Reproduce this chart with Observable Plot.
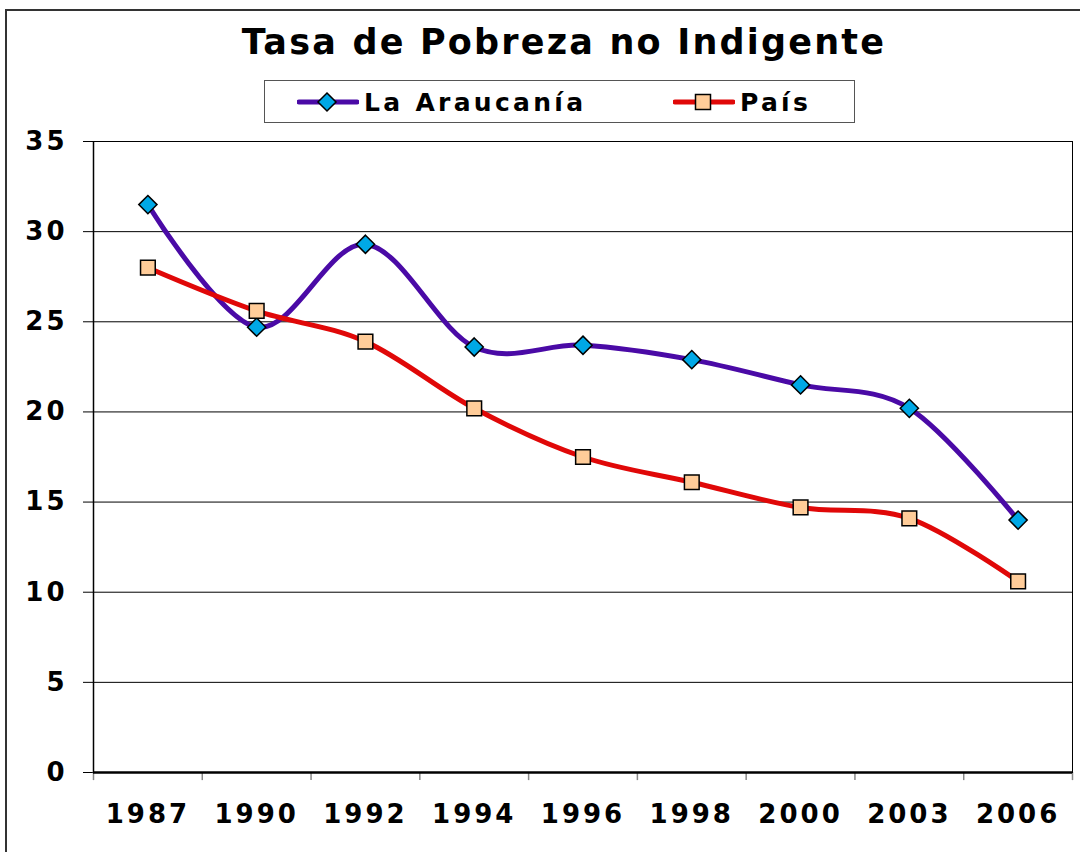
<!DOCTYPE html>
<html>
<head>
<meta charset="utf-8">
<script src="https://cdn.jsdelivr.net/npm/d3@7"></script>
<script src="https://cdn.jsdelivr.net/npm/@observablehq/plot@0.6"></script>
<style>
  html, body { margin: 0; padding: 0; background: #fff; overflow: hidden; }
  body { width: 1080px; height: 852px; position: relative; font-family: "DejaVu Sans", Verdana, sans-serif; }
  #frame { position: absolute; left: 5px; top: 9px; width: 1200px; height: 1000px; border-left: 2px solid #333; border-top: 2px solid #333; }
  #title { position: absolute; left: 0; width: 1128px; top: 22px; text-align: center; font-weight: bold; font-size: 35px; letter-spacing: 2.2px; color: #000; }
  #legend { position: absolute; left: 264px; top: 80px; width: 591px; height: 43px; border: 1px solid #555; box-sizing: border-box; z-index: 2; }
  .item { position: absolute; top: 0; height: 43px; display: flex; align-items: center; font-weight: bold; font-size: 25px; letter-spacing: 3.3px; }
  .item svg { display: block; margin-right: 5px; }
  #chart { position: absolute; left: 0; top: 110px; z-index: 1; }
</style>
</head>
<body>
<div id="frame"></div>
<div id="title">Tasa de Pobreza no Indigente</div>
<div id="chart"></div>
<div id="legend"></div>
<script>
const years = ["1987", "1990", "1992", "1994", "1996", "1998", "2000", "2003", "2006"];
const araucania = [31.5, 24.7, 29.3, 23.6, 23.7, 22.9, 21.5, 20.2, 14.0];
const pais = [28.0, 25.6, 23.9, 20.2, 17.5, 16.1, 14.7, 14.1, 10.6];
const seriesNames = ["La Araucanía", "País"];
const yTicks = [0, 5, 10, 15, 20, 25, 30, 35];

const lineColors = {"La Araucanía": "#4A0AA6", "País": "#E00808"};
const markerFill = {"La Araucanía": "#00A8E6", "País": "#FFCC99"};
const markerSymbol = {"La Araucanía": "diamond2", "País": "square"};

const rows = [];
years.forEach((yr, i) => {
  rows.push({year: yr, value: araucania[i], series: seriesNames[0]});
  rows.push({year: yr, value: pais[i], series: seriesNames[1]});
});

const width = 1080, height = 742;
const mL = 93, mR = 8;
const bw = (width - mL - mR) / years.length;

const marks = [
  Plot.gridY(yTicks, {stroke: "#000", strokeOpacity: 1, strokeWidth: 1}),
  Plot.axisY({ticks: yTicks, tickSize: 10, tickPadding: 16, stroke: "#000"}),
  Plot.axisX({tickSize: 0, tickPadding: 32}),
  Plot.ruleX(years, {x: d => d, y1: 0, y2: -0.45, dx: -bw / 2, stroke: "#888", strokeWidth: 1.5}),
  Plot.ruleX([years[years.length - 1]], {x: d => d, y1: 0, y2: -0.45, dx: bw / 2, stroke: "#888", strokeWidth: 1.5}),
  Plot.frame({stroke: "#000", strokeWidth: 1}),
  Plot.ruleY([0], {stroke: "#000", strokeWidth: 2.5}),
  Plot.ruleX([years[0]], {x: d => d, dx: -bw / 2, y1: 0, y2: 35, stroke: "#000", strokeWidth: 1.5})
];
for (const s of seriesNames) {
  const d = rows.filter(r => r.series === s);
  marks.push(Plot.line(d, {x: "year", y: "value", stroke: lineColors[s], strokeWidth: 5, curve: "cardinal"}));
}
for (const s of seriesNames) {
  const d = rows.filter(r => r.series === s);
  marks.push(Plot.dot(d, {x: "year", y: "value", symbol: () => markerSymbol[s], r: s === "País" ? 8.3 : 8.2, fill: markerFill[s], stroke: "#000", strokeWidth: 1.5}));
}

const chart = Plot.plot({
  width, height,
  marginTop: 31, marginBottom: 80, marginLeft: mL, marginRight: mR,
  style: {fontFamily: "'DejaVu Sans', Verdana, sans-serif", fontSize: "26px", fontWeight: "bold", color: "#000", background: "transparent", letterSpacing: "3px"},
  x: {type: "band", domain: years, padding: 0, round: false, label: null},
  y: {domain: [0, 35], label: null},
  symbol: {type: "identity"},
  marks
});
document.getElementById("chart").appendChild(chart);

// legend
const legend = document.getElementById("legend");
const legendPos = {"La Araucanía": 32, "País": 408};
for (const s of seriesNames) {
  const item = document.createElement("div");
  item.className = "item";
  item.style.left = legendPos[s] + "px";
  const sym = markerSymbol[s] === "diamond2"
    ? `<path d="M30,12 L39,21 L30,30 L21,21 Z" fill="${markerFill[s]}" stroke="#000" stroke-width="1.5"/>`
    : `<rect x="22.5" y="13.5" width="15" height="15" fill="${markerFill[s]}" stroke="#000" stroke-width="1.5"/>`;
  item.innerHTML = `<svg width="62" height="43"><line x1="2" x2="60" y1="21" y2="21" stroke="${lineColors[s]}" stroke-width="5" stroke-linecap="round"/>${sym}</svg><span>${s}</span>`;
  legend.appendChild(item);
}
</script>
</body>
</html>
